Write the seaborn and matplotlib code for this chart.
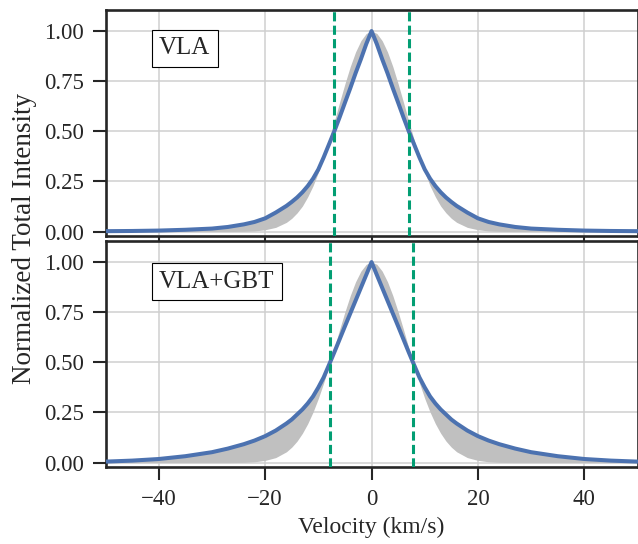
import matplotlib
matplotlib.use("Agg")
import matplotlib.pyplot as plt
import seaborn as sns

# DATA
velocity = [-50, -45, -40, -35, -30, -27, -24, -22, -20, -18, -16, -15, -14, -13,
            -12, -11, -10, -9, -8, -7, -6, -5, -4, -3, -2, -1, 0,
            1, 2, 3, 4, 5, 6, 7, 8, 9, 10, 11, 12, 13, 14, 15, 16,
            18, 20, 22, 24, 27, 30, 35, 40, 45, 50]

# VLA panel: measured profile (blue) and gaussian (grey edge)
vla_profile = [0.002, 0.003, 0.005, 0.009, 0.015, 0.023, 0.036, 0.048, 0.066, 0.095,
               0.128, 0.148, 0.170, 0.196, 0.227, 0.264, 0.310, 0.370, 0.435, 0.500,
               0.570, 0.643, 0.715, 0.790, 0.860, 0.935, 1.000,
               0.935, 0.860, 0.790, 0.715, 0.643, 0.570, 0.500, 0.435, 0.370, 0.310,
               0.264, 0.227, 0.196, 0.170, 0.148, 0.128,
               0.095, 0.066, 0.048, 0.036, 0.023, 0.015, 0.009, 0.005, 0.003, 0.002]
vla_gauss = [0.0, 0.0, 0.0, 0.0, 0.0, 0.0, 0.001, 0.003, 0.009, 0.021,
             0.046, 0.066, 0.093, 0.127, 0.173, 0.228, 0.295, 0.372, 0.458, 0.550,
             0.645, 0.737, 0.823, 0.896, 0.952, 0.988, 1.000,
             0.988, 0.952, 0.896, 0.823, 0.737, 0.645, 0.550, 0.458, 0.372, 0.295,
             0.228, 0.173, 0.127, 0.093, 0.066, 0.046,
             0.021, 0.009, 0.003, 0.001, 0.0, 0.0, 0.0, 0.0, 0.0, 0.0]

# VLA+GBT panel
combo_profile = [0.005, 0.010, 0.018, 0.032, 0.052, 0.070, 0.092, 0.110, 0.132, 0.160,
                 0.195, 0.215, 0.240, 0.265, 0.295, 0.330, 0.375, 0.425, 0.487, 0.550,
                 0.615, 0.680, 0.744, 0.808, 0.872, 0.936, 1.000,
                 0.936, 0.872, 0.808, 0.744, 0.680, 0.615, 0.550, 0.487, 0.425, 0.375,
                 0.330, 0.295, 0.265, 0.240, 0.215, 0.195,
                 0.160, 0.132, 0.110, 0.092, 0.070, 0.052, 0.032, 0.018, 0.010, 0.005]
combo_gauss = [0.0, 0.0, 0.0, 0.0, 0.0, 0.0, 0.001, 0.004, 0.011, 0.025,
               0.054, 0.077, 0.107, 0.146, 0.194, 0.252, 0.320, 0.397, 0.482, 0.572,
               0.664, 0.752, 0.833, 0.902, 0.955, 0.989, 1.000,
               0.989, 0.955, 0.902, 0.833, 0.752, 0.664, 0.572, 0.482, 0.397, 0.320,
               0.252, 0.194, 0.146, 0.107, 0.077, 0.054,
               0.025, 0.011, 0.004, 0.001, 0.0, 0.0, 0.0, 0.0, 0.0, 0.0]

panel_names = ['VLA', 'VLA+GBT']
half_widths = [7.0, 7.8]   # half width at half maximum, km/s
y_ticks = [0.0, 0.25, 0.50, 0.75, 1.00]
x_ticks = [-40, -20, 0, 20, 40]

BLUE = '#4C72B0'
GREEN = '#029E73'
GREY = '#C0C0C0'

sns.set_style("ticks")
plt.rcParams['font.family'] = ['Liberation Serif', 'DejaVu Serif']
plt.rcParams['text.color'] = '#262626'
plt.rcParams['axes.labelcolor'] = '#262626'

fig = plt.figure(figsize=(6.38, 5.44), dpi=100)
ax_top = fig.add_axes([0.1654, 0.5662, 0.8339, 0.4154])
ax_bot = fig.add_axes([0.1654, 0.1415, 0.8339, 0.4154], sharex=ax_top)

panels = [(ax_top, vla_profile, vla_gauss), (ax_bot, combo_profile, combo_gauss)]

for i, (ax, profile, gauss) in enumerate(panels):
    ax.grid(True, color='#CFCFCF', lw=1.1)
    ax.set_axisbelow(True)
    ax.fill_between(velocity, gauss, profile, color=GREY, lw=0, zorder=2)
    sns.lineplot(x=velocity, y=profile, ax=ax, color=BLUE, lw=2.9, zorder=3)
    for hw in (-half_widths[i], half_widths[i]):
        ax.axvline(hw, color=GREEN, lw=2.2, dashes=(3.0, 1.4), zorder=4)

    ax.set_xlim(-50, 50)
    ax.set_ylim(-0.022, 1.105)
    ax.set_xticks(x_ticks)
    ax.set_yticks(y_ticks)
    ax.set_yticklabels(['%.2f' % t for t in y_ticks])
    ax.tick_params(axis='both', length=9.5, width=1.5, pad=6, labelsize=16.5,
                   color='#262626', labelcolor='#262626')
    for sp in ax.spines.values():
        sp.set_linewidth(1.9)
        sp.set_color('#262626')
    ax.set_ylabel('')

    ax.text(0.1006, 0.83 if i == 0 else 0.82, panel_names[i], transform=ax.transAxes,
            fontsize=18, ha='left', va='center', zorder=5,
            bbox=dict(boxstyle='square,pad=0.3', fc='white', ec='black', lw=0.8))

ax_top.tick_params(axis='x', labelbottom=False)
ax_bot.set_xlabel('Velocity (km/s)', fontsize=17, labelpad=5)
fig.text(25 / 638, 1 - 238.5 / 544, 'Normalized Total Intensity', rotation=90,
         ha='center', va='center', fontsize=19.5)

fig.savefig('out.png', dpi=100)
